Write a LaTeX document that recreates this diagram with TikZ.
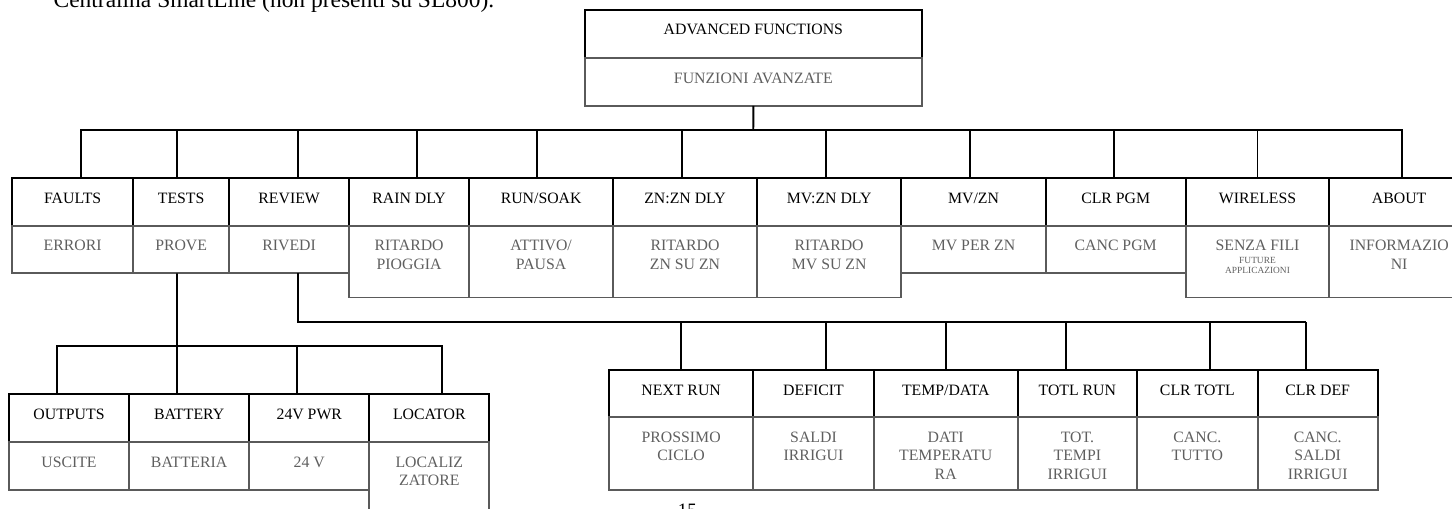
\documentclass[tikz,border=0pt]{standalone}
\usepackage{fontspec}
\setmainfont{Liberation Serif}
\newlength{\px}
\setlength{\px}{0.75pt}
\definecolor{grigiotesto}{RGB}{95,95,95}
\definecolor{grigiobordo}{RGB}{90,90,90}
% testo di una cella, allineato in alto
\newcommand{\cella}[3]{\parbox[c][#2][t]{#1}{\fontsize{11.85}{13.9}\selectfont\centering\rule{0pt}{25\px}#3\par}}
% voce di menu: nome, x sinistra, x destra, y alto, y meta, y basso, inglese, italiano
\newcommand{\voce}[8]{%
	\node[testa, anchor=north west] (#1) at (#2,#4)
		{\cella{\dimexpr#3\px-#2\px\relax}{\dimexpr#5\px-#4\px\relax}{#7}};
	\node[trad, anchor=north west] (#1-it) at (#2,#5)
		{\cella{\dimexpr#3\px-#2\px\relax}{\dimexpr#6\px-#5\px\relax}{#8}};
}
\tikzset{
	testa/.style={draw=black, inner sep=0pt, outer sep=0pt, text=black},
	trad/.style={draw=grigiobordo, inner sep=0pt, outer sep=0pt, text=grigiotesto}
}
\begin{document}
\begin{tikzpicture}[x=0.75pt, y=-0.75pt, line width=1.4pt]
	\useasboundingbox (0,0) rectangle (1452,509);
	\def \ya{178.3};
	\def \yb{226};
	\def \yc{273.3};
	\def \yd{297.5};
	\node[anchor=base west, inner sep=0pt, font=\fontsize{17.6}{20}\selectfont] (intro) at (52.7,7.3) {Centralina SmartLine (non presenti su SL800).};
	\voce{root}{585}{921.7}{10}{58.3}{106}{ADVANCED FUNCTIONS}{FUNZIONI AVANZATE}
	% primo livello
	\voce{faults}{12.3}{133}{\ya}{\yb}{\yc}{FAULTS}{ERRORI}
	\voce{tests}{133}{229.3}{\ya}{\yb}{\yc}{TESTS}{PROVE}
	\voce{review}{229.3}{349}{\ya}{\yb}{\yc}{REVIEW}{RIVEDI}
	\voce{raindly}{349}{469.3}{\ya}{\yb}{\yd}{RAIN DLY}{RITARDO\\PIOGGIA}
	\voce{runsoak}{469.3}{613}{\ya}{\yb}{\yd}{RUN/SOAK}{ATTIVO/\\PAUSA}
	\voce{znzn}{613}{757}{\ya}{\yb}{\yd}{ZN:ZN DLY}{RITARDO\\ZN SU ZN}
	\voce{mvzn}{757}{901.3}{\ya}{\yb}{\yd}{MV:ZN DLY}{RITARDO\\MV SU ZN}
	\voce{mvperzn}{901.3}{1045.7}{\ya}{\yb}{\yc}{MV/ZN}{MV PER ZN}
	\voce{clrpgm}{1045.7}{1185.7}{\ya}{\yb}{\yc}{CLR PGM}{CANC PGM}
	\voce{wireless}{1185.7}{1329.3}{\ya}{\yb}{\yd}{WIRELESS}{SENZA FILI\par\vspace{3\px}{\fontsize{7.05}{7.3}\selectfont FUTURE\\APPLICAZIONI\par}}
	\voce{about}{1329.3}{1469}{\ya}{\yb}{\yd}{ABOUT}{INFORMAZIO\\NI}
	% sotto TESTS
	\voce{outputs}{9}{129}{394.3}{442.3}{490}{OUTPUTS}{USCITE}
	\voce{battery}{129}{249.3}{394.3}{442.3}{490}{BATTERY}{BATTERIA}
	\voce{pwr}{249.3}{369.3}{394.3}{442.3}{490}{24V PWR}{24 V}
	\voce{locator}{369.3}{489.3}{394.3}{442.3}{530}{LOCATOR}{LOCALIZ\\ZATORE}
	% sotto REVIEW
	\voce{nextrun}{609}{753.3}{370}{417.3}{490}{NEXT RUN}{PROSSIMO\\CICLO}
	\voce{deficit}{753.3}{873.7}{370}{417.3}{490}{DEFICIT}{SALDI\\IRRIGUI}
	\voce{tempdata}{873.7}{1017.7}{370}{417.3}{490}{TEMP/DATA}{DATI\\TEMPERATU\\RA}
	\voce{totlrun}{1017.7}{1137}{370}{417.3}{490}{TOTL RUN}{TOT.\\TEMPI\\IRRIGUI}
	\voce{clrtotl}{1137}{1257.7}{370}{417.3}{490}{CLR TOTL}{CANC.\\TUTTO}
	\voce{clrdef}{1257.7}{1377.7}{370}{417.3}{490}{CLR DEF}{CANC.\\SALDI\\IRRIGUI}
	% collegamenti
	\coordinate (bus) at (753.3,130);
	\draw (root-it.south) -- (bus);
	\foreach \n/\dx in {faults/8.4, tests/-4.2, review/8.5, raindly/7.8, runsoak/-3.9, znzn/-3.3, mvzn/-3.5, mvperzn/-3.5, clrpgm/-1.4, wireless/0, about/3}
		\draw ([xshift=\dx\px]\n.north) |- (bus);
	\coordinate (busprove) at (177,346);
	\draw ([xshift=-4.2\px]tests-it.south) -- (busprove);
	\foreach \n/\dx in {outputs/-11.7, battery/-12.2, pwr/-12, locator/12.4}
		\draw ([xshift=\dx\px]\n.north) |- (busprove);
	\coordinate (busrivedi) at (1306,321.7);
	\draw ([xshift=8.5\px]review-it.south) |- (busrivedi);
	\foreach \n/\dx in {nextrun/0, deficit/12.2, tempdata/0, totlrun/-11.3, clrtotl/12.7, clrdef/-11.7}
		\draw ([xshift=\dx\px]\n.north) |- (busrivedi);
	\node[anchor=base west, inner sep=0pt, font=\fontsize{14.2}{16}\selectfont] (pagina) at (677,516.8) {15};
\end{tikzpicture}
\end{document}
